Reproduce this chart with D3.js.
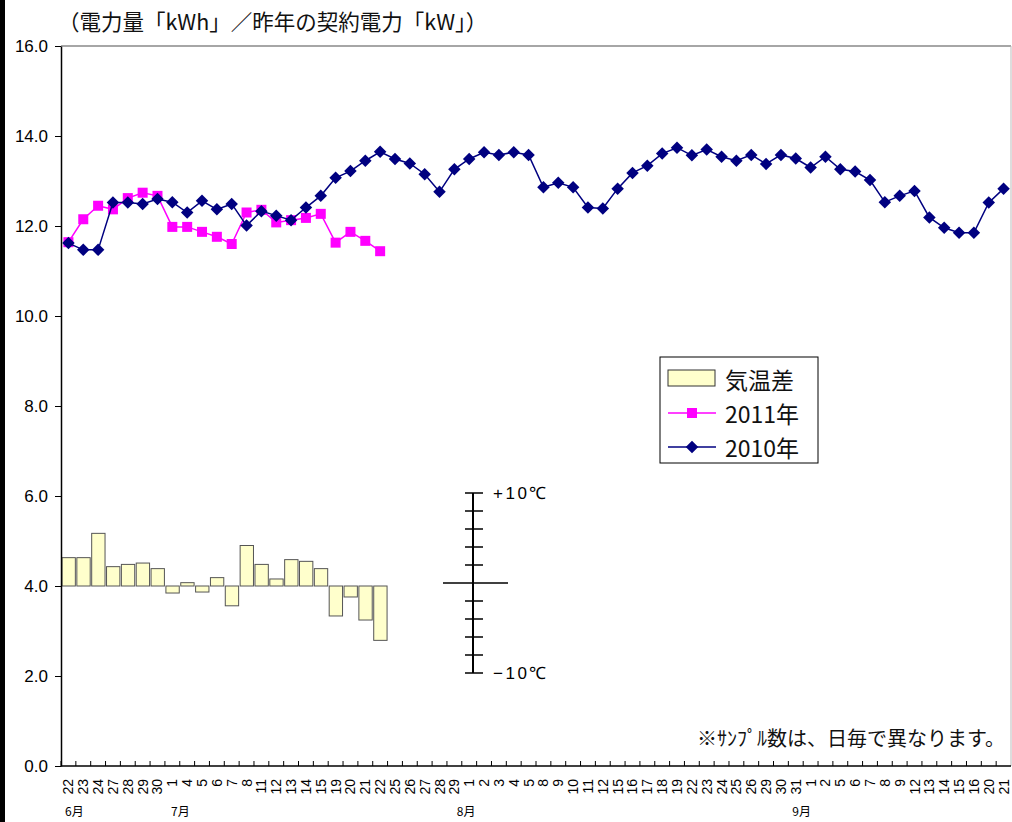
<!DOCTYPE html>
<html>
<head>
<meta charset="utf-8">
<script src="https://cdn.jsdelivr.net/npm/d3@7"></script>
<style>
    body { margin: 0; background: #fff; }
    svg { display: block; }
    .jp { font-family: "Noto Sans CJK JP", sans-serif; }
    .num { font-family: "Liberation Sans", Arial, sans-serif; }
</style>
</head>
<body>
<div id="chart"></div>
<script>
// days shown on the x axis, grouped by month
const monthNames = ["6月", "7月", "8月", "9月"];
const junDays = [22, 23, 24, 27, 28, 29, 30];
const julDays = [1, 4, 5, 6, 7, 8, 11, 12, 13, 14, 15, 19, 20, 21, 22, 25, 26, 27, 28, 29];
const augDays = [1, 2, 3, 4, 5, 8, 9, 10, 11, 12, 15, 16, 17, 18, 19, 22, 23, 24, 25, 26, 29, 30, 31];
const sepDays = [1, 2, 5, 6, 7, 8, 9, 12, 13, 14, 15, 16, 20, 21];

// kWh / last year's contract kW
const values2010 = [11.62, 11.47, 11.47, 12.52, 12.52, 12.49, 12.60, 12.53, 12.30, 12.56,
    12.37, 12.49, 12.01, 12.33, 12.23, 12.13, 12.41, 12.67, 13.07, 13.22,
    13.45, 13.65, 13.49, 13.39, 13.15, 12.76, 13.26, 13.49, 13.64, 13.58,
    13.64, 13.58, 12.86, 12.96, 12.86, 12.41, 12.39, 12.83, 13.18, 13.34,
    13.61, 13.74, 13.57, 13.70, 13.54, 13.45, 13.58, 13.38, 13.58, 13.50,
    13.30, 13.54, 13.26, 13.21, 13.02, 12.53, 12.67, 12.78, 12.19, 11.96,
    11.85, 11.85, 12.52, 12.83];
const values2011 = [11.64, 12.15, 12.45, 12.37, 12.62, 12.74, 12.67, 11.98, 11.98, 11.87,
    11.76, 11.60, 12.30, 12.36, 12.08, 12.13, 12.18, 12.27, 11.63, 11.87,
    11.67, 11.44];
// temperature difference (℃), 2011 vs 2010
const tempDiff = [3.15, 3.15, 5.85, 2.15, 2.4, 2.55, 1.93, -0.78, 0.37, -0.67,
    0.93, -2.2, 4.5, 2.4, 0.78, 2.93, 2.74, 1.93, -3.33, -1.22,
    -3.78, -6.04];

const yTicks = [0, 2, 4, 6, 8, 10, 12, 14, 16];
const titleText = "（電力量「kWh」／昨年の契約電力「kW」）";
const noteText = "※ｻﾝﾌﾟﾙ数は、日毎で異なります。";

// build the category list
let categories = [];
[junDays, julDays, augDays, sepDays].forEach((days, m) => {
    days.forEach((d, i) => categories.push({ key: `${m + 6}/${d}`, day: d, month: m, first: i === 0 }));
});

const width = 1012, height = 822;
const margin = { top: 46, right: 1, bottom: 56, left: 61 };

const svg = d3.select('#chart').append('svg')
    .attr('width', width)
    .attr('height', height);

// black strip on the left edge
svg.append('rect')
    .attr('x', 0).attr('y', 0)
    .attr('width', 5).attr('height', height)
    .attr('fill', '#000');

const x = d3.scaleBand()
    .domain(categories.map(c => c.key))
    .range([margin.left, width - margin.right])
    .padding(0);
const y = d3.scaleLinear()
    .domain([0, 16])
    .range([height - margin.bottom, margin.top]);
// 1℃ = 0.2 on the y axis, zero at 4.0
const t = d3.scaleLinear()
    .domain([-10, 10])
    .range([y(2), y(6)]);

// plot frame (top / right)
svg.append('line')
    .attr('x1', margin.left).attr('x2', width - margin.right)
    .attr('y1', y(16)).attr('y2', y(16))
    .attr('stroke', '#888').attr('stroke-width', 1.5);
svg.append('line')
    .attr('x1', width - margin.right).attr('x2', width - margin.right)
    .attr('y1', y(16)).attr('y2', y(0))
    .attr('stroke', '#bbb');

// title
svg.append('text')
    .attr('class', 'jp')
    .attr('x', 58).attr('y', 30)
    .attr('font-size', 21.5)
    .attr('fill', '#111')
    .text(titleText);

// temperature bars
svg.append('g').selectAll('rect')
    .data(tempDiff)
    .enter()
    .append('rect')
    .attr('x', (d, i) => x(categories[i].key) + 1)
    .attr('width', x.bandwidth() - 1.5)
    .attr('y', d => t(Math.max(0, d)))
    .attr('height', d => Math.abs(t(d) - t(0)))
    .attr('fill', '#ffffcc')
    .attr('stroke', '#555')
    .attr('stroke-width', 1);

// y axis
const yAxis = d3.axisLeft(y)
    .tickValues(yTicks)
    .tickFormat(d3.format('.1f'))
    .tickSize(6)
    .tickSizeOuter(0)
    .tickPadding(7);
const yG = svg.append('g')
    .attr('transform', `translate(${margin.left},0)`)
    .call(yAxis);
yG.select('.domain').attr('stroke', '#000').attr('stroke-width', 1.5);
yG.selectAll('text')
    .attr('class', 'num')
    .attr('font-size', 17)
    .attr('fill', '#000');

// x axis: line, ticks at band edges, rotated day labels
const xG = svg.append('g');
xG.append('line')
    .attr('x1', margin.left).attr('x2', width - margin.right)
    .attr('y1', y(0)).attr('y2', y(0))
    .attr('stroke', '#000').attr('stroke-width', 1.5);
xG.selectAll('line.tick')
    .data(categories)
    .enter()
    .append('line')
    .attr('class', 'tick')
    .attr('x1', c => x(c.key)).attr('x2', c => x(c.key))
    .attr('y1', y(0)).attr('y2', y(0) - 5)
    .attr('stroke', '#000');
xG.selectAll('text.day')
    .data(categories)
    .enter()
    .append('text')
    .attr('class', 'day num')
    .attr('font-size', 14)
    .attr('text-anchor', 'end')
    .attr('dominant-baseline', 'central')
    .attr('transform', c => `translate(${x(c.key) + x.bandwidth() / 2},${y(0) + 13}) rotate(-90)`)
    .text(c => c.day);

// month labels under the first day of each month
const monthNudge = [6, 8, -3, -9];
xG.selectAll('text.month')
    .data(categories.filter(c => c.first))
    .enter()
    .append('text')
    .attr('class', 'month jp')
    .attr('font-size', 12)
    .attr('text-anchor', 'middle')
    .attr('x', c => x(c.key) + x.bandwidth() / 2 + monthNudge[c.month])
    .attr('y', 816)
    .text(c => monthNames[c.month]);

// lines
const line = d3.line()
    .x((d, i) => x(categories[i].key) + x.bandwidth() / 2)
    .y(d => y(d));

svg.append('path')
    .datum(values2011)
    .attr('d', line)
    .attr('fill', 'none')
    .attr('stroke', '#ff00ff')
    .attr('stroke-width', 1.5);
svg.append('g').selectAll('rect')
    .data(values2011)
    .enter()
    .append('rect')
    .attr('x', (d, i) => x(categories[i].key) + x.bandwidth() / 2 - 5)
    .attr('y', d => y(d) - 5)
    .attr('width', 10).attr('height', 10)
    .attr('fill', '#ff00ff');

svg.append('path')
    .datum(values2010)
    .attr('d', line)
    .attr('fill', 'none')
    .attr('stroke', '#000080')
    .attr('stroke-width', 1.5);
const diamond = d3.symbol().type(d3.symbolDiamond2).size(100);
svg.append('g').selectAll('path')
    .data(values2010)
    .enter()
    .append('path')
    .attr('d', diamond)
    .attr('transform', (d, i) => `translate(${x(categories[i].key) + x.bandwidth() / 2},${y(d)})`)
    .attr('fill', '#000080');

// legend
const legend = svg.append('g').attr('transform', 'translate(660,357)');
legend.append('rect')
    .attr('width', 158).attr('height', 106)
    .attr('fill', '#fff')
    .attr('stroke', '#000');
legend.append('rect')
    .attr('x', 8).attr('y', 13)
    .attr('width', 47).attr('height', 16)
    .attr('fill', '#ffffcc')
    .attr('stroke', '#333');
legend.append('line')
    .attr('x1', 8).attr('x2', 56).attr('y1', 56).attr('y2', 56)
    .attr('stroke', '#ff00ff').attr('stroke-width', 1.5);
legend.append('rect')
    .attr('x', 27).attr('y', 51).attr('width', 10).attr('height', 10)
    .attr('fill', '#ff00ff');
legend.append('line')
    .attr('x1', 8).attr('x2', 56).attr('y1', 90).attr('y2', 90)
    .attr('stroke', '#000080').attr('stroke-width', 1.5);
legend.append('path')
    .attr('d', diamond)
    .attr('transform', 'translate(32,90)')
    .attr('fill', '#000080');
legend.selectAll('text')
    .data(['気温差', '2011年', '2010年'])
    .enter()
    .append('text')
    .attr('class', 'jp')
    .attr('x', 65)
    .attr('y', (d, i) => 22 + i * 34)
    .attr('dominant-baseline', 'central')
    .attr('font-size', 23)
    .attr('fill', '#111')
    .text(d => d);

// temperature scale gauge
const gauge = svg.append('g').attr('transform', 'translate(473,-3)');
const gaugeTicks = [-10, -8, -6, -4, -2, 2, 4, 6, 8, 10];
gauge.append('line')
    .attr('x1', 0).attr('x2', 0)
    .attr('y1', t(-10)).attr('y2', t(10))
    .attr('stroke', '#000').attr('stroke-width', 2);
gauge.append('line')
    .attr('x1', -30).attr('x2', 35)
    .attr('y1', t(0)).attr('y2', t(0))
    .attr('stroke', '#000').attr('stroke-width', 1.5);
gauge.selectAll('line.gt')
    .data(gaugeTicks)
    .enter()
    .append('line')
    .attr('class', 'gt')
    .attr('x1', -8).attr('x2', 10)
    .attr('y1', d => t(d)).attr('y2', d => t(d))
    .attr('stroke', '#000').attr('stroke-width', 1.5);
gauge.selectAll('text')
    .data([10, -10])
    .enter()
    .append('text')
    .attr('class', 'num')
    .attr('x', 20)
    .attr('y', d => t(d))
    .attr('dominant-baseline', 'central')
    .attr('font-size', 17)
    .attr('letter-spacing', 2.5)
    .text(d => (d > 0 ? '+' : '−') + Math.abs(d) + '℃');

// footnote
svg.append('text')
    .attr('class', 'jp')
    .attr('x', 697).attr('y', 737)
    .attr('dominant-baseline', 'central')
    .attr('font-size', 20)
    .attr('fill', '#111')
    .text(noteText);
</script>
</body>
</html>
